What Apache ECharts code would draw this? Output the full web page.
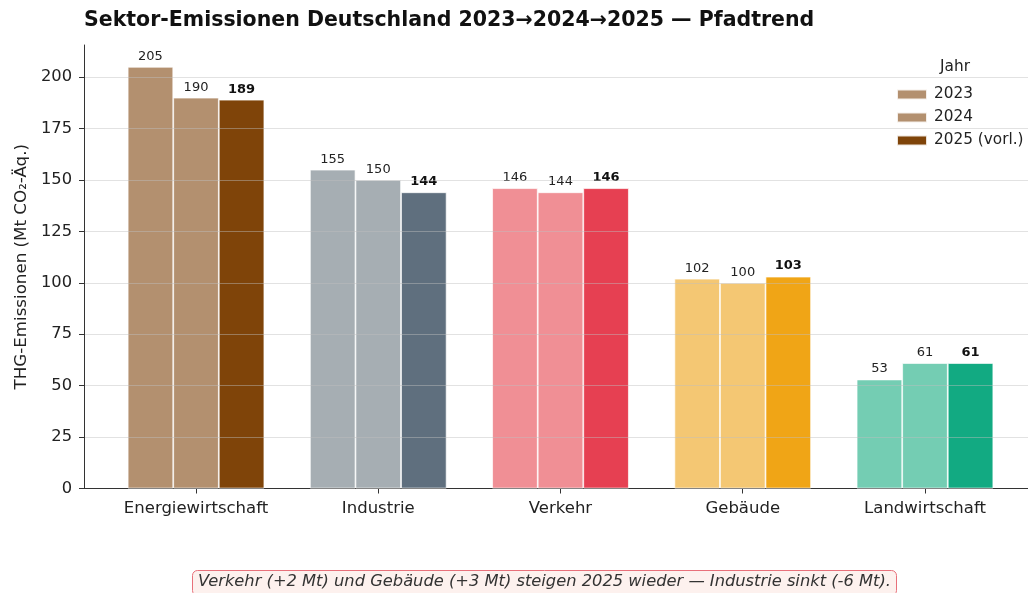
<!DOCTYPE html>
<html>
<head>
<meta charset="utf-8">
<script src="https://cdn.jsdelivr.net/npm/echarts@6/dist/echarts.min.js"></script>
<style>
  html, body { margin: 0; padding: 0; background: #fff; }
  #chart { width: 1028px; height: 593px; }
</style>
</head>
<body>
<div id="chart"></div>
<script>
const sectors = ['Energiewirtschaft', 'Industrie', 'Verkehr', 'Gebäude', 'Landwirtschaft'];
const years = ['2023', '2024', '2025 (vorl.)'];
const v2023 = [205, 155, 146, 102, 53];
const v2024 = [190, 150, 144, 100, 61];
const v2025 = [189, 144, 146, 103, 61];

const lightColors = ['#b3906f', '#a6aeb3', '#f08f95', '#f4c773', '#74cdb3'];
const darkColors = ['#7f4409', '#5f6f7e', '#e64052', '#f0a516', '#12aa82'];

const font = 'DejaVu Sans';
const yMax = 215.6;

function makeSeries(name, values, colors, bold) {
  return {
    name: name,
    type: 'bar',
    xAxisIndex: 1,
    yAxisIndex: 1,
    barWidth: '25%',
    barGap: '0%',
    itemStyle: { color: colors[0], borderColor: 'rgba(255,255,255,0.85)', borderWidth: 0.8 },
    label: {
      show: true,
      position: 'top',
      distance: 4,
      fontFamily: font,
      fontSize: 13,
      color: bold ? '#111' : '#222',
      fontWeight: bold ? 'bold' : 'normal'
    },
    data: values.map(function (v, i) {
      return { value: v, itemStyle: { color: colors[i] } };
    })
  };
}

let chart = echarts.init(document.getElementById('chart'));
let option = {
  animation: false,
  backgroundColor: '#fff',
  title: [
    {
      text: 'Sektor-Emissionen Deutschland 2023→2024→2025 — Pfadtrend',
      left: 84, top: 10, padding: 0,
      textStyle: { fontFamily: font, fontSize: 20.5, fontWeight: 'bold', color: '#111' }
    },
    {
      text: 'Jahr',
      left: 955, top: 60, padding: 0, textAlign: 'center',
      textStyle: { fontFamily: font, fontSize: 15.3, fontWeight: 'normal', color: '#222' }
    },
    {
      text: 'Verkehr (+2 Mt) und Gebäude (+3 Mt) steigen 2025 wieder — Industrie sinkt (-6 Mt).',
      left: 192, top: 570,
      padding: [4, 6, 6, 6],
      backgroundColor: '#fdf1ee',
      borderColor: '#e8707a',
      borderWidth: 1,
      borderRadius: 5,
      textStyle: { fontFamily: font, fontSize: 16.3, fontStyle: 'italic', fontWeight: 'normal', color: '#333' }
    }
  ],
  legend: {
    orient: 'vertical',
    left: 891, top: 82,
    itemWidth: 30, itemHeight: 10, itemGap: 8,
    icon: 'rect',
    textStyle: { fontFamily: font, fontSize: 15.3, color: '#222', padding: [0, 0, 0, 2] },
    data: years
  },
  grid: [
    { left: 84, right: 0, top: 45, bottom: 104.5 },
    { left: 104.9, right: 11.9, top: 45, bottom: 104.5 }
  ],
  xAxis: [
    {
      gridIndex: 0, type: 'value', min: 0, max: 1,
      axisLine: { show: true, lineStyle: { color: '#333', width: 1 } },
      axisTick: { show: false }, axisLabel: { show: false }, splitLine: { show: false }
    },
    {
      gridIndex: 1, type: 'category', data: sectors,
      axisLine: { show: false },
      axisTick: { show: true, alignWithLabel: true, interval: 0, length: 5, lineStyle: { color: '#333' } },
      axisLabel: { fontFamily: font, fontSize: 16.5, color: '#222', margin: 12, interval: 0, hideOverlap: false }
    }
  ],
  yAxis: [
    {
      gridIndex: 0, type: 'value', min: 0, max: yMax, interval: 25, z: 5,
      name: 'THG-Emissionen (Mt CO₂-Äq.)',
      nameLocation: 'middle', nameGap: 52,
      nameTextStyle: { fontFamily: font, fontSize: 16.7, color: '#222' },
      axisLine: { show: true, lineStyle: { color: '#333', width: 1 } },
      axisTick: { show: true, length: 5, lineStyle: { color: '#333' } },
      axisLabel: {
        fontFamily: font, fontSize: 16.3, color: '#222', margin: 12, showMaxLabel: false,
        formatter: function (v) { return v % 25 === 0 ? String(v) : ''; }
      },
      splitLine: { show: true, showMinLine: false, showMaxLine: false, lineStyle: { color: 'rgba(190,190,190,0.45)', width: 1 } }
    },
    {
      gridIndex: 1, type: 'value', min: 0, max: yMax, show: false,
      splitLine: { show: false }
    }
  ],
  series: [
    makeSeries(years[0], v2023, lightColors, false),
    makeSeries(years[1], v2024, lightColors, false),
    makeSeries(years[2], v2025, darkColors, true)
  ]
};
chart.setOption(option);
</script>
</body>
</html>
